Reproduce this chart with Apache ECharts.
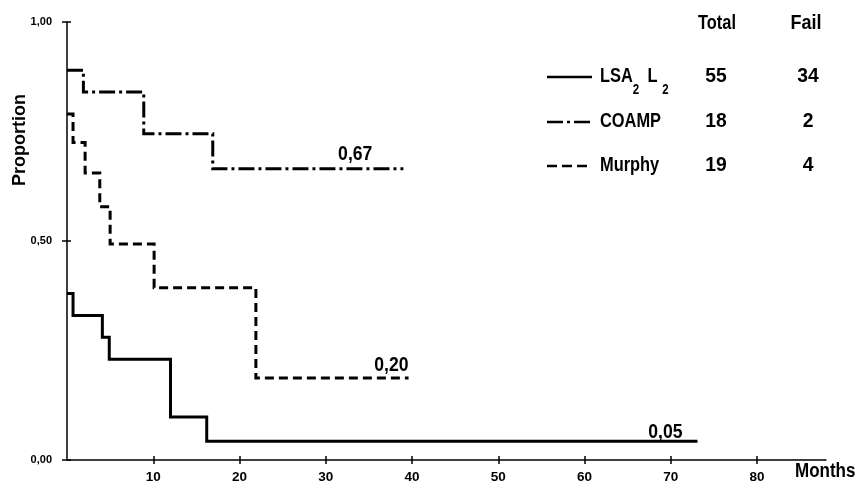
<!DOCTYPE html>
<html><head><meta charset="utf-8">
<script src="https://cdn.jsdelivr.net/npm/echarts@6/dist/echarts.min.js"></script>
<style>html,body{margin:0;padding:0;background:#fff}#c{width:859px;height:485px}</style>
</head><body><div id="c"></div>
<script>
// ---- data ----
const xTicks = [10, 20, 30, 40, 50, 60, 70, 80];
const lsaTime = [0, 0.7, 4.1, 4.9, 12.0, 16.2, 73.1];
const lsaProp = [0.38, 0.33, 0.28, 0.23, 0.098, 0.043, 0.043];
const coampTime = [0, 1.9, 8.9, 16.9, 39.0];
const coampProp = [0.89, 0.84, 0.745, 0.665, 0.665];
const murphyTime = [0, 0.7, 2.1, 3.8, 5.0, 10.1, 21.9, 39.6];
const murphyProp = [0.79, 0.725, 0.655, 0.578, 0.493, 0.393, 0.187, 0.187];
const groupNames = ['LSA2 L2', 'COAMP', 'Murphy'];
const totals = [55, 18, 19];
const fails = [34, 2, 4];
const endLabels = ['0,05', '0,67', '0,20'];
const colHeaders = ['Total', 'Fail'];
const xName = 'Months';
const yName = 'Proportion';

const FS = "'Liberation Sans','DejaVu Sans',sans-serif";
const BLACK = '#000';

const pairs = (t, p) => t.map((v, i) => [v, p[i]]);
function km(name, t, p, dash) {
  return {
    name, type: 'line', step: 'end', data: pairs(t, p),
    symbol: 'none', showSymbol: false, silent: true, z: 3,
    lineStyle: { color: BLACK, width: 3, type: dash, cap: 'butt', join: 'miter' },
    itemStyle: { color: BLACK }
  };
}

const chart = echarts.init(document.getElementById('c'), null, { renderer: 'canvas' });
const axisLine = { show: true, lineStyle: { color: BLACK, width: 1.5 } };
const tickStyle = { color: BLACK, width: 1.5 };

const option = {
  animation: false,
  backgroundColor: '#fff',
  grid: { left: 67, right: 33, top: 22, bottom: 25, containLabel: false, outerBoundsMode: 'none' },
  xAxis: [
    { type: 'value', min: 0, max: 88, position: 'bottom', axisLine,
      axisTick: { show: true, inside: false, length: 4, customValues: xTicks, lineStyle: tickStyle },
      axisLabel: { show: true, customValues: xTicks, margin: 10, fontFamily: FS, fontSize: 13.5, fontWeight: 'bold', color: BLACK },
      splitLine: { show: false } },
    { type: 'value', min: 0, max: 88, position: 'bottom', axisLine: { show: false },
      axisTick: { show: true, inside: true, length: 4, customValues: xTicks, lineStyle: tickStyle },
      axisLabel: { show: false }, splitLine: { show: false } }
  ],
  yAxis: [
    { type: 'value', min: 0, max: 1, interval: 0.5, position: 'left', axisLine,
      axisTick: { show: true, inside: false, length: 5, lineStyle: tickStyle },
      axisLabel: { formatter: v => v.toFixed(2).replace('.', ','), margin: 15, fontFamily: FS, fontSize: 11, fontWeight: 'bold', color: BLACK },
      splitLine: { show: false } },
    { type: 'value', min: 0, max: 1, interval: 0.5, position: 'left', axisLine: { show: false },
      axisTick: { show: true, inside: true, length: 4, lineStyle: tickStyle },
      axisLabel: { show: false }, splitLine: { show: false } }
  ],
  series: [
    km(groupNames[0], lsaTime, lsaProp, 'solid'),
    km(groupNames[1], coampTime, coampProp, [16, 4, 3, 4]),
    km(groupNames[2], murphyTime, murphyProp, [9, 5])
  ]
};
chart.setOption(option);

// ---- annotations / legend table (graphic) ----
const txt = (x, y, text, size, align, sx, extra) => Object.assign({
  type: 'text', x, y, scaleX: sx, silent: true,
  style: { text, font: 'bold ' + size + 'px ' + FS, fill: BLACK, align, verticalAlign: 'middle' }
}, extra || {});

const graphic = [];
// end-of-curve value labels, anchored on the last point of each curve via the grid scale
const ends = [[lsaTime, lsaProp, -15, -9], [coampTime, coampProp, -31, -14], [murphyTime, murphyProp, 0, -13]];
ends.forEach((e, i) => {
  const n = e[0].length - 1;
  const pt = chart.convertToPixel({ gridIndex: 0 }, [e[0][n], e[1][n]]);
  graphic.push(txt(pt[0] + e[2], pt[1] + e[3], endLabels[i], 20, 'right', 0.88));
});

const rowY = [76, 121, 165];
graphic.push(txt(717, 23, colHeaders[0], 20, 'center', 0.82));
graphic.push(txt(806, 23, colHeaders[1], 20, 'center', 0.9));
const dashes = [null, [16, 4, 3, 4], [10, 5]];
dashes.forEach((d, i) => {
  const st = { stroke: BLACK, lineWidth: 2.5 };
  if (d) st.lineDash = d;
  graphic.push({ type: 'line', silent: true, shape: { x1: 547, y1: rowY[i] + 1, x2: 592, y2: rowY[i] + 1 }, style: st });
});
graphic.push({ type: 'text', x: 600, y: rowY[0], scaleX: 0.82, silent: true, style: {
  text: '{m|LSA}{s|2}{l|L}{s|2}', fill: BLACK, align: 'left', verticalAlign: 'middle',
  rich: { m: { fontFamily: FS, fontWeight: 'bold', fontSize: 20, fill: BLACK },
          l: { fontFamily: FS, fontWeight: 'bold', fontSize: 20, fill: BLACK, padding: [0, 6, 0, 10] },
          s: { fontFamily: FS, fontWeight: 'bold', fontSize: 14, padding: [28, 0, 0, 0], fill: BLACK } } } });
for (let i = 1; i < 3; i++) graphic.push(txt(600, rowY[i], groupNames[i], 20, 'left', 0.82));
for (let i = 0; i < 3; i++) {
  graphic.push(txt(716, rowY[i], String(totals[i]), 21, 'center', 0.92));
  graphic.push(txt(808, rowY[i], String(fails[i]), 21, 'center', 0.92));
}
graphic.push(txt(795, 471, xName, 20, 'left', 0.85));
graphic.push(txt(20, 140, yName, 18, 'center', 1, { rotation: Math.PI / 2 }));

chart.setOption({ graphic });
</script>
</body></html>
